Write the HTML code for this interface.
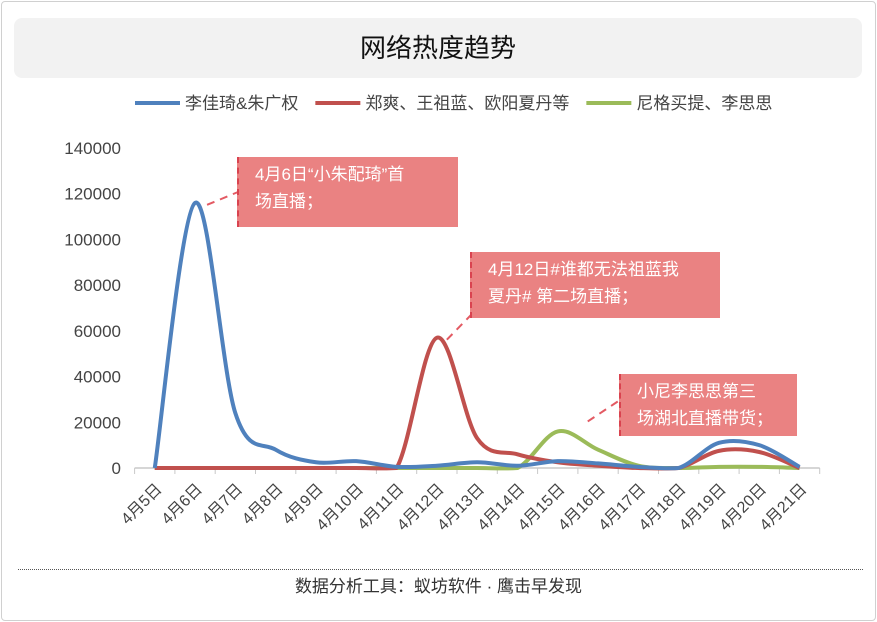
<!DOCTYPE html>
<html><head><meta charset="utf-8"><style>
body{margin:0;width:877px;height:622px;background:#fff;font-family:"Liberation Sans","Noto Sans CJK SC",sans-serif;overflow:hidden}
#frame{position:absolute;left:1px;top:1px;width:873px;height:618px;border:1px solid #d0d0d0;border-radius:4px}
#title{position:absolute;left:14px;top:18px;width:848px;height:60px;background:#f2f2f2;border-radius:8px;text-align:center;line-height:60px;font-size:26px;color:#111}
.ann{position:absolute;background:#ea8282;color:#fff;font-size:17px;line-height:27px;padding:4px 0 0 16px;box-sizing:border-box;border-left:2px dashed #d9434f}
#footer{position:absolute;left:0;width:877px;top:572px;text-align:center;font-size:17px;color:#333}
#dots{position:absolute;left:18px;top:569px;width:845px;border-top:1.5px dotted #555}
</style></head><body>
<div id="frame"></div>
<div id="title">网络热度趋势</div>
<svg id="chart" width="877" height="622" style="position:absolute;left:0;top:0"></svg>
<div class="ann" style="left:237px;top:157px;width:221px;height:70px">4月6日“小朱配琦”首<br>场直播；</div>
<div class="ann" style="left:470px;top:252px;width:250px;height:66px">4月12日#谁都无法祖蓝我<br>夏丹# 第二场直播；</div>
<div class="ann" style="left:619px;top:374px;width:178px;height:62px">小尼李思思第三<br>场湖北直播带货；</div>
<div id="dots"></div>
<div id="footer">数据分析工具：蚁坊软件 · 鹰击早发现</div>
<script>
const categories=["4月5日","4月6日","4月7日","4月8日","4月9日","4月10日","4月11日","4月12日","4月13日","4月14日","4月15日","4月16日","4月17日","4月18日","4月19日","4月20日","4月21日"];
const seriesNames=["李佳琦&朱广权","郑爽、王祖蓝、欧阳夏丹等","尼格买提、李思思"];
const blue=[0,116000,24000,8000,2500,3000,500,1000,2500,1000,3000,2000,500,0,11000,10000,500];
const red=[0,0,0,0,0,0,0,57000,13000,6000,2500,1000,0,0,7500,7000,0];
const green=[0,0,0,0,0,0,0,0,0,0,16000,8000,1000,0,500,500,0];
const yTicks=[0,20000,40000,60000,80000,100000,120000,140000];
const colors=["#4f81bd","#c0504d","#9bbb59"];
const NS="http://www.w3.org/2000/svg",svg=document.getElementById('chart');
const x0=134.6,step=40.3,yBase=468,yMax=140000,yTop=148;
const X=i=>x0+step*(i+0.5), Y=v=>yBase-(v/yMax)*(yBase-yTop);
function mk(t,a){const e=document.createElementNS(NS,t);for(const k in a)e.setAttribute(k,a[k]);svg.appendChild(e);return e;}
yTicks.forEach(v=>{const t=mk('text',{x:121,y:Y(v)+6,'text-anchor':'end','font-size':17,fill:'#444'});t.textContent=v;

});
const ax=mk('line',{x1:x0,x2:x0+step*categories.length,y1:yBase,y2:yBase,stroke:'#c8c8c8','stroke-width':1.5});


for(let i=0;i<=categories.length;i++){const tk=mk('line',{x1:x0+step*i,x2:x0+step*i,y1:yBase,y2:yBase+6,stroke:'#c8c8c8'});

}
categories.forEach((c,i)=>{const t=mk('text',{x:X(i)+8,y:yBase+22,'text-anchor':'end','font-size':16,fill:'#444',transform:`rotate(-45 ${X(i)+8} ${yBase+22})`});t.textContent=c;

});
const cl=y=>Math.min(y,yBase+1);
function smooth(vals){const p=vals.map((v,i)=>[X(i),Y(v)]);let d=`M${p[0][0]},${p[0][1]}`;
for(let i=0;i<p.length-1;i++){const a=p[i-1]||p[i],b=p[i],c=p[i+1],e=p[i+2]||c;
d+=` C${b[0]+(c[0]-a[0])/6},${cl(b[1]+(c[1]-a[1])/6)} ${c[0]-(e[0]-b[0])/6},${cl(c[1]-(e[1]-b[1])/6)} ${c[0]},${c[1]}`;}return d;}
[green,red,blue].forEach((s,k)=>{const ci=2-k;const p=mk('path',{d:smooth(s),fill:'none',stroke:colors[ci],'stroke-width':4,'stroke-linejoin':'round'});

});
let lx=135;seriesNames.forEach((n,i)=>{const l=mk('line',{x1:lx,x2:lx+45,y1:103,y2:103,stroke:colors[i],'stroke-width':4});


const t=mk('text',{x:lx+50,y:109,'font-size':17,fill:'#444'});t.textContent=n;


lx+=55+t.getComputedTextLength()+12;});
[[X(1)+12,Y(blue[1])+2,238,192],[X(7)+10,Y(red[7])+2,471,315],[X(10)+30,Y(green[10])-10,620,400]].forEach(a=>{
const l=mk('line',{x1:a[0],y1:a[1],x2:a[2],y2:a[3],stroke:'#e35a63','stroke-width':2,'stroke-dasharray':'8,6'});

});
</script>
</body></html>
